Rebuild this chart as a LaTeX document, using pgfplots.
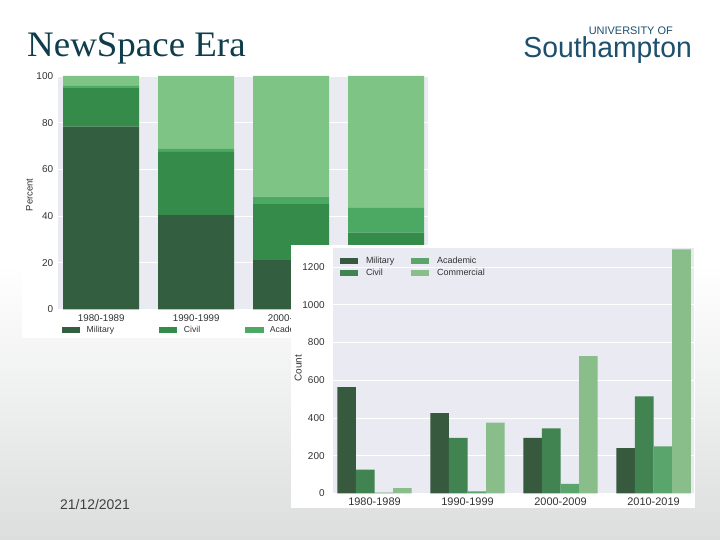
\documentclass[border=0pt]{standalone}
\usepackage{fontspec}
\setmainfont{Liberation Sans}
\newfontfamily\titlefont{Liberation Serif}
\usepackage{pgfplots}
\usepackage{pgfplotstable}
\pgfplotsset{compat=1.18}
\definecolor{bggray}{HTML}{DCDEDD}
\definecolor{axbg}{HTML}{EAEAF2}
\definecolor{pMil}{HTML}{335F40}
\definecolor{pCiv}{HTML}{358B4A}
\definecolor{pAca}{HTML}{4BA963}
\definecolor{pCom}{HTML}{7EC485}
\definecolor{cMil}{HTML}{375A3F}
\definecolor{cCiv}{HTML}{418452}
\definecolor{cAca}{HTML}{5AA56B}
\definecolor{cCom}{HTML}{89BD8A}
\definecolor{titleblue}{HTML}{0F3D4C}
\definecolor{logoblue}{HTML}{1D4F6E}
\definecolor{ticktext}{HTML}{333333}

\pgfplotstableread{
x mil civ aca com
0 78.3 16.8 0.7 4.2
1 40.4 27.1 1.3 31.2
2 21.1 24.0 3.2 51.7
3 10.5 22.4 10.6 56.5
}\pct

\pgfplotstableread{
x mil civ aca com
0 564 127 4 28
1 426 295 11 376
2 295 345 51 728
3 240 514 249 1293
}\cnt

\pgfplotsset{
  seab/.style={
    scale only axis,
    axis background/.style={fill=axbg},
    axis line style={draw=none},
    major tick length=0pt,
    ymajorgrids,
    grid style={white, line width=0.9bp},
    /pgf/number format/assume math mode=true,
    /pgf/number format/1000 sep={},
    tick label style={text=ticktext, inner sep=0pt},
    xtick={0,1,2,3},
    xticklabels={1980-1989,1990-1999,2000-2009,2010-2019},
    legend cell align=left,
  },
  patchlegend/.style={
    legend image code/.code={\fill[##1,draw=none] (0bp,-2.65bp) rectangle (18.3bp,2.65bp);},
  },
}

\begin{document}
\begin{tikzpicture}
\useasboundingbox (0bp,0bp) rectangle (720bp,540bp);
\fill[white] (0bp,0bp) rectangle (720bp,540bp);
\shade[top color=white,bottom color=bggray] (0bp,0bp) rectangle (720bp,275bp);

\node[anchor=base west, font=\titlefont\fontsize{36}{36}\selectfont, text=titleblue, inner sep=0pt, xscale=1.03] at (27bp,483.3bp) {NewSpace Era};
\node[anchor=base east, font=\fontsize{11}{11}\selectfont, text=logoblue, inner sep=0pt] at (673bp,505bp) {UNIVERSITY OF};
\node[anchor=base east, font=\fontsize{29}{29}\selectfont, text=logoblue, inner sep=0pt, xscale=0.98] at (692bp,482.7bp) {Southampton};
\node[anchor=base west, font=\fontsize{14}{14}\selectfont, text=black!75, inner sep=0pt] at (60bp,30.7bp) {21/12/2021};

% ---- chart 1: percent ----
\fill[white] (22bp,202bp) rectangle (428bp,472bp);
\begin{axis}[seab,
  anchor=south west, at={(58.5bp,230.7bp)},
  width=369.5bp, height=233.3bp,
  xmin=-0.45, xmax=3.44, ymin=0, ymax=100,
  ybar stacked, bar width=0.8,
  patchlegend,
  ytick={0,20,40,60,80,100},
  yticklabel style={font=\fontsize{10}{10}\selectfont, anchor=east, xshift=-5.2bp},
  xticklabel style={font=\fontsize{9.8}{10}\selectfont, anchor=center, yshift=-9bp},
  ylabel={Percent},
  ylabel style={font=\fontsize{9.5}{10}\selectfont, text=ticktext, at={(axis description cs:-0.079,0.49)}, anchor=center},
  legend columns=4,
  legend style={draw=none, fill=none, inner sep=0pt, outer sep=0pt, anchor=west,
    at={(axis description cs:0.0095,-0.0887)},
    font=\fontsize{8.7}{9}\selectfont, text=ticktext,
    nodes={inner sep=0pt},
    /tikz/every odd column/.append style={column sep=6.4bp},
    /tikz/every even column/.append style={column sep=45bp}},
]
\addplot[fill=pMil, draw=none] table[x=x, y=mil] {\pct};
\addplot[fill=pCiv, draw=none] table[x=x, y=civ] {\pct};
\addplot[fill=pAca, draw=none] table[x=x, y=aca] {\pct};
\addplot[fill=pCom, draw=none] table[x=x, y=com] {\pct};
\legend{Military, Civil, Academic, Commercial}
\end{axis}

% ---- chart 2: counts ----
\fill[white] (290.7bp,32.3bp) rectangle (695bp,295bp);
\begin{axis}[seab,
  anchor=south west, at={(333.3bp,46.5bp)},
  width=360.7bp, height=245.8bp,
  xmin=-0.443, xmax=3.435, ymin=0, ymax=1302,
  ybar=0pt, bar width=0.2,
  patchlegend,
  ytick={0,200,400,600,800,1000,1200},
  yticklabel style={font=\fontsize{10}{10}\selectfont, anchor=east, xshift=-8.5bp},
  xticklabel style={font=\fontsize{11}{11}\selectfont, anchor=center, yshift=-8.2bp},
  ylabel={Count},
  ylabel style={font=\fontsize{10}{10}\selectfont, text=ticktext, at={(axis description cs:-0.097,0.51)}, anchor=center},
  legend columns=2, transpose legend,
  legend style={draw=none, fill=none, inner sep=0pt, outer sep=0pt, anchor=north west,
    at={(axis description cs:0.0186,0.962)},
    font=\fontsize{9}{9}\selectfont, text=ticktext,
    nodes={inner sep=0pt, text height=6.5bp, text depth=1.5bp},
    row sep=4bp,
    /tikz/every odd column/.append style={column sep=7.7bp},
    /tikz/every even column/.append style={column sep=16.7bp}},
]
\addplot[fill=cMil, draw=none] table[x=x, y=mil] {\cnt};
\addplot[fill=cCiv, draw=none] table[x=x, y=civ] {\cnt};
\addplot[fill=cAca, draw=none] table[x=x, y=aca] {\cnt};
\addplot[fill=cCom, draw=none] table[x=x, y=com] {\cnt};
\legend{Military, Civil, Academic, Commercial}
\end{axis}
\end{tikzpicture}
\end{document}
